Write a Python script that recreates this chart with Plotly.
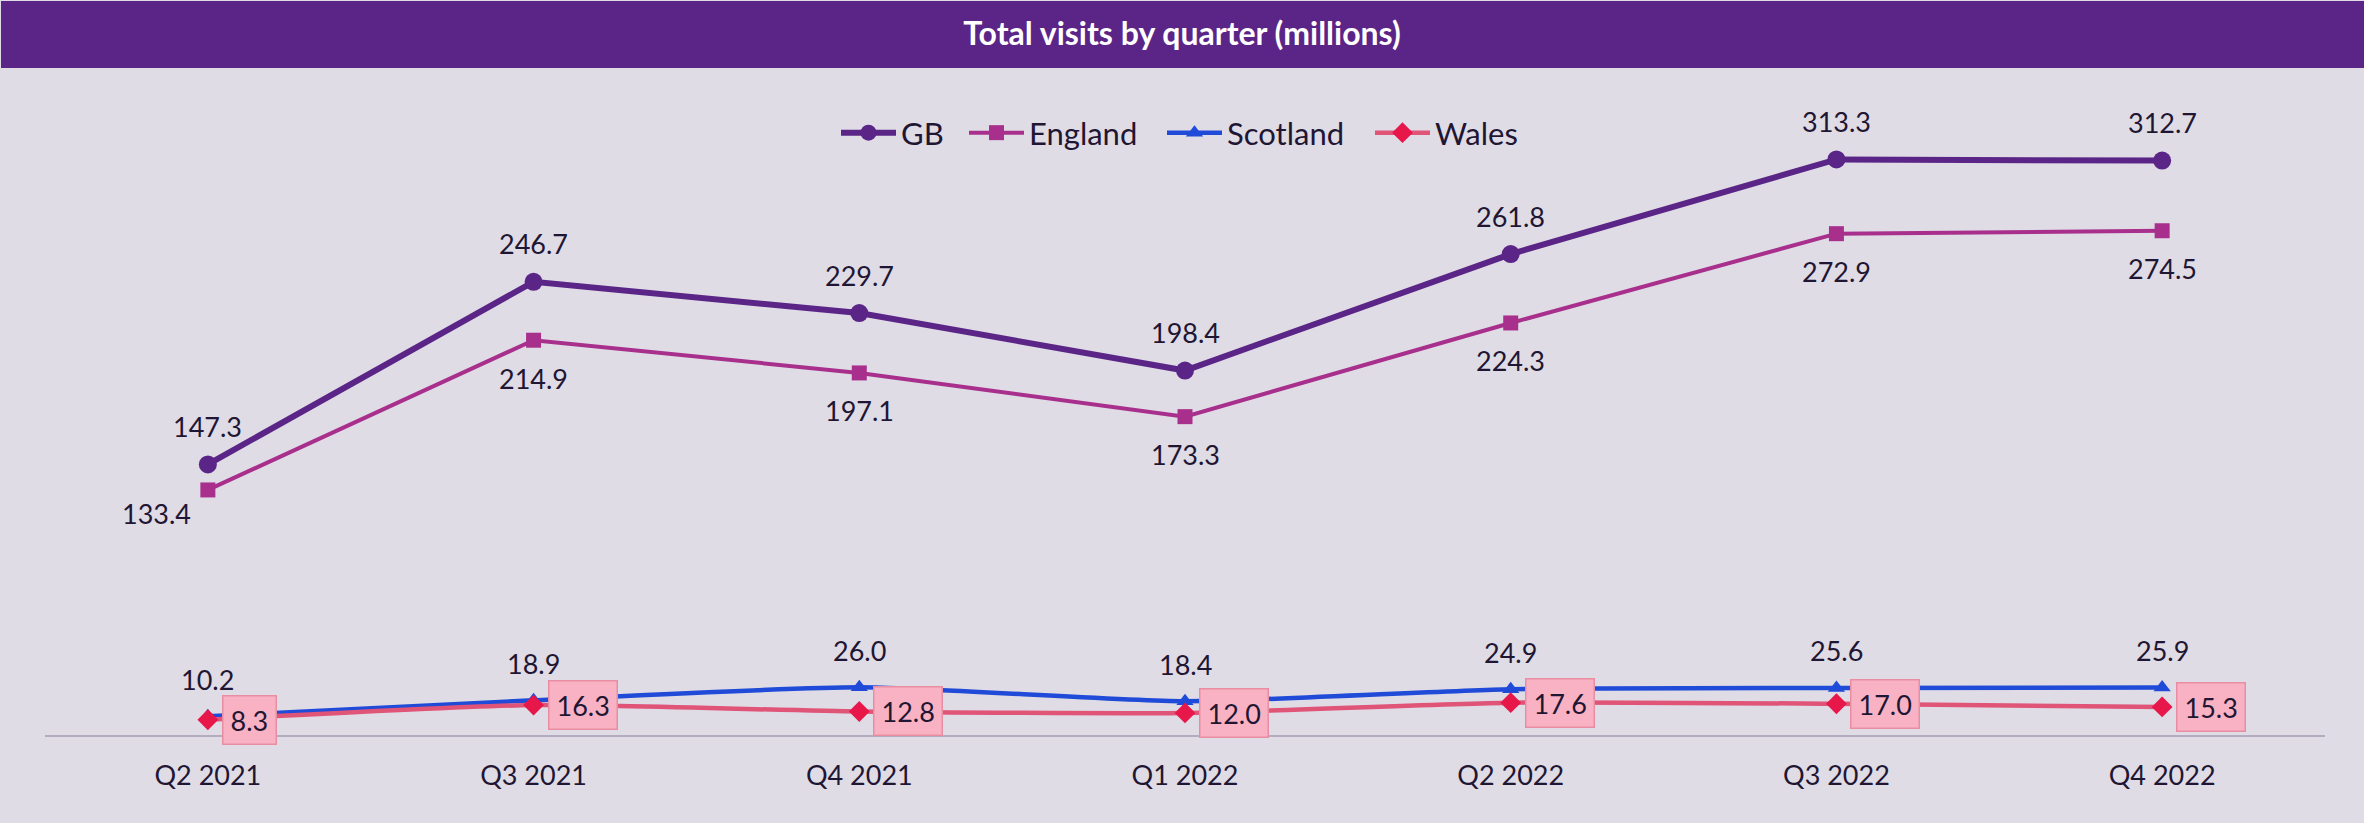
import plotly.graph_objects as go

quarters = ["Q2 2021", "Q3 2021", "Q4 2021", "Q1 2022", "Q2 2022", "Q3 2022", "Q4 2022"]
gb = [147.3, 246.7, 229.7, 198.4, 261.8, 313.3, 312.7]
england = [133.4, 214.9, 197.1, 173.3, 224.3, 272.9, 274.5]
scotland = [10.2, 18.9, 26.0, 18.4, 24.9, 25.6, 25.9]
wales = [8.3, 16.3, 12.8, 12.0, 17.6, 17.0, 15.3]

W, H = 2364, 823
ML, MR, MT, MB = 45, 39, 111, 88
PW, PH = W - ML - MR, H - MT - MB
YMAX = PH / 1.837

BG = "#dfdce6"
TXT = "#1f1633"
FONT = "Lato"

C_GB = "#5b2587"
C_EN = "#a8308c"
C_SC = "#1f4bd8"
C_WA = "#e05478"
C_WA_M = "#e8174a"

fig = go.Figure()
fig.add_trace(go.Scatter(x=quarters, y=gb, name="GB", mode="lines+markers", legend="legend",
                         line=dict(color=C_GB, width=6),
                         marker=dict(symbol="circle", size=18, color=C_GB)))
fig.add_trace(go.Scatter(x=quarters, y=england, name="England", mode="lines+markers", legend="legend2",
                         line=dict(color=C_EN, width=4),
                         marker=dict(symbol="square", size=15, color=C_EN)))
fig.add_trace(go.Scatter(x=quarters, y=scotland, name="Scotland", mode="lines+markers", legend="legend3",
                         line=dict(color=C_SC, width=4.5, shape="spline", smoothing=0.6),
                         marker=dict(symbol="triangle-up", size=15, color=C_SC)))
fig.add_trace(go.Scatter(x=quarters, y=wales, name="Wales", mode="lines+markers", legend="legend4",
                         line=dict(color=C_WA, width=4.5, shape="spline", smoothing=0.6),
                         marker=dict(symbol="diamond", size=16, color=C_WA_M)))

ann = []
lab_font = dict(family=FONT, size=27, color=TXT)
for i, q in enumerate(quarters):
    ann.append(dict(x=q, y=gb[i], text=f"{gb[i]:.1f}", showarrow=False,
                    yshift=38, font=lab_font))
    if i == 0:
        ann.append(dict(x=q, y=england[i], text=f"{england[i]:.1f}", showarrow=False,
                        xshift=-51, yshift=-24, font=lab_font))
    else:
        ann.append(dict(x=q, y=england[i], text=f"{england[i]:.1f}", showarrow=False,
                        yshift=-38, font=lab_font))
    ann.append(dict(x=q, y=scotland[i], text=f"{scotland[i]:.1f}", showarrow=False,
                    yshift=37, font=lab_font))
    ann.append(dict(x=q, y=wales[i], text=f"{wales[i]:.1f}", showarrow=False,
                    xanchor="left", xshift=14, yanchor="middle",
                    bgcolor="#f9b2c3", bordercolor="#e98da3", borderwidth=1.5,
                    borderpad=7, font=lab_font))

def py(px):
    return (H - MB - px) / PH

def pxx(px):
    return (px - ML) / PW

def leg(px_left):
    return dict(orientation="h", x=pxx(px_left), xanchor="left", y=py(133), yanchor="middle",
                bgcolor="rgba(0,0,0,0)", font=dict(family=FONT, size=31, color=TXT),
                itemwidth=55)

OFF = 15
fig.update_layout(
    width=W, height=H,
    margin=dict(l=ML, r=MR, t=MT, b=MB),
    paper_bgcolor=BG, plot_bgcolor=BG,
    font=dict(family=FONT, size=27, color=TXT),
    title=dict(text="<b>Total visits by quarter (millions)</b>", x=1182 / W, xanchor="center",
               y=1 - 34 / H, yanchor="middle", yref="container",
               font=dict(family=FONT, size=32, color="#ffffff")),
    showlegend=True,
    legend=leg(851 - OFF), legend2=leg(979 - OFF), legend3=leg(1177 - OFF), legend4=leg(1385 - OFF),
    xaxis=dict(type="category", range=[-0.5, 6.5], showgrid=False, zeroline=False,
               showline=True, linecolor="#b3adbf", linewidth=2, ticks="",
               tickfont=dict(family=FONT, size=27, color=TXT), ticklabelstandoff=16),
    yaxis=dict(visible=False, range=[0, YMAX], showgrid=False, zeroline=False),
    shapes=[dict(type="rect", xref="paper", yref="paper", layer="below",
                 x0=pxx(1), x1=pxx(W), y0=py(68), y1=py(1),
                 fillcolor=C_GB, line=dict(width=0))],
    annotations=ann,
)

fig.write_html("out.html", config={"displayModeBar": False},
               post_script="document.body.style.margin='0';")
